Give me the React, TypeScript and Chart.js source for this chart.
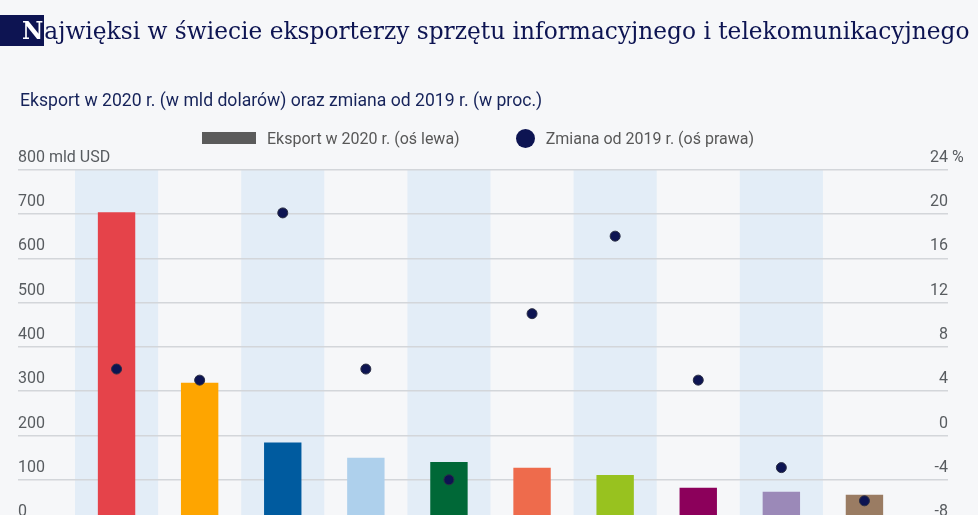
import React, { useEffect, useRef } from "react";
import { Chart, registerables } from "chart.js";

Chart.register(...registerables);

// ---- data ----
const categories = [
  "Chiny",
  "Hongkong",
  "Tajwan",
  "USA",
  "Korea Płd.",
  "Singapur",
  "Wietnam",
  "Malezja",
  "Japonia",
  "Niemcy",
];
const exports2020 = [704, 319, 184, 150, 140, 127, 111, 82, 73, 66];
const change2019 = [6.0, 5.0, 20.1, 6.0, -4.0, 11.0, 18.0, 5.0, -2.9, -5.9];
const barColors = [
  "#e5434a",
  "#fea500",
  "#005b9f",
  "#aed0ec",
  "#006837",
  "#ee6b4c",
  "#98c21f",
  "#8c005b",
  "#9b89b8",
  "#9a7c63",
];
const leftTicks = { min: 0, max: 800, step: 100, unit: "mld USD" };
const rightTicks = { min: -8, max: 24, step: 4, unit: "%" };

const TITLE_REST = "ajwięksi w świecie eksporterzy sprzętu informacyjnego i telekomunikacyjnego";
const SUBTITLE = "Eksport w 2020 r. (w mld dolarów) oraz zmiana od 2019 r. (w proc.)";
const LEGEND_BAR = "Eksport w 2020 r. (oś lewa)";
const LEGEND_DOT = "Zmiana od 2019 r. (oś prawa)";

const NAVY = "#0d1452";
const BG = "#f6f7f9";
const BAND = "#e3edf7";
const GRID = "#d3d6da";
const TICK = "#585c60";
const SANS = "Roboto, 'Noto Sans', sans-serif";
const TICK_FONT = `16px ${SANS}`;

const bandPlugin = {
  id: "bands",
  beforeDraw(chart: any) {
    const { ctx, chartArea, scales } = chart;
    const x = scales.x;
    const w = (chartArea.right - chartArea.left) / categories.length;
    ctx.save();
    ctx.fillStyle = BAND;
    categories.forEach((_, i) => {
      if (i % 2 === 0) {
        const cx = x.getPixelForValue(i);
        ctx.fillRect(cx - w / 2, chartArea.top, w, chartArea.bottom - chartArea.top);
      }
    });
    ctx.restore();
  },
};

const unitPlugin = {
  id: "units",
  afterDraw(chart: any) {
    const { ctx, scales } = chart;
    const yL = scales.yL;
    const yR = scales.yR;
    ctx.save();
    ctx.font = TICK_FONT;
    ctx.fillStyle = TICK;
    ctx.textAlign = "left";
    ctx.textBaseline = "middle";
    const w800 = ctx.measureText(String(leftTicks.max) + " ").width;
    ctx.fillText(leftTicks.unit, yL.left + w800, yL.getPixelForValue(leftTicks.max) - 12);
    ctx.fillText(rightTicks.unit, yR.right + 4, yR.getPixelForValue(rightTicks.max) - 12);
    ctx.restore();
  },
};

export default function App() {
  const ref = useRef<HTMLCanvasElement | null>(null);

  useEffect(() => {
    if (!ref.current) return;
    const chart = new Chart(ref.current, {
      type: "bar",
      data: {
        labels: categories,
        datasets: [
          {
            type: "line",
            label: LEGEND_DOT,
            data: change2019,
            yAxisID: "yR",
            showLine: false,
            pointRadius: 5,
            pointBackgroundColor: NAVY,
            pointBorderColor: "#2b2f45",
            pointBorderWidth: 1,
            order: 0,
          } as any,
          {
            type: "bar",
            label: LEGEND_BAR,
            data: exports2020,
            backgroundColor: barColors,
            yAxisID: "yL",
            barPercentage: 0.45,
            categoryPercentage: 1,
            order: 1,
          },
        ],
      },
      options: {
        responsive: false,
        animation: false,
        devicePixelRatio: 1,
        layout: { padding: { left: 18, right: 30, top: 169.7, bottom: 20.9 } },
        plugins: {
          legend: { display: false },
          tooltip: { enabled: false },
          title: { display: false },
        },
        scales: {
          x: { display: false, offset: true },
          yL: {
            position: "left",
            min: leftTicks.min,
            max: leftTicks.max,
            afterFit: (s: any) => {
              s.width = 57;
            },
            border: { display: false },
            grid: {
              color: GRID,
              lineWidth: 1.5,
              drawTicks: true,
              tickLength: 57,
              tickColor: GRID,
            },
            ticks: {
              stepSize: leftTicks.step,
              crossAlign: "far",
              labelOffset: -12,
              color: TICK,
              font: { family: SANS, size: 16 },
              callback: (v: any) => String(v),
            },
          },
          yR: {
            position: "right",
            min: rightTicks.min,
            max: rightTicks.max,
            afterFit: (s: any) => {
              s.width = 42;
            },
            border: { display: false },
            grid: {
              color: GRID,
              lineWidth: 1.5,
              drawOnChartArea: false,
              drawTicks: true,
              tickLength: 42,
              tickColor: GRID,
            },
            ticks: {
              stepSize: rightTicks.step,
              crossAlign: "far",
              labelOffset: -12,
              color: TICK,
              font: { family: SANS, size: 16 },
              callback: (v: any) => String(v),
            },
          },
        },
      } as any,
      plugins: [bandPlugin, unitPlugin],
    });
    return () => chart.destroy();
  }, []);

  return (
    <div
      style={{
        position: "fixed",
        left: 0,
        top: 0,
        width: 978,
        height: 515,
        overflow: "hidden",
        background: BG,
      }}
    >
      <canvas
        ref={ref}
        width={978}
        height={545}
        style={{ position: "absolute", left: 0, top: 0, display: "block" }}
      />
      <div
        style={{
          position: "absolute",
          left: 0,
          top: 15,
          height: 31,
          display: "flex",
          alignItems: "center",
          fontFamily: "'DejaVu Serif', serif",
          fontSize: 23.3,
          color: NAVY,
          whiteSpace: "nowrap",
        }}
      >
        <span
          style={{
            background: NAVY,
            color: "#fff",
            fontWeight: "bold",
            height: 31,
            lineHeight: "31px",
            paddingLeft: 22,
            paddingRight: 1,
            display: "inline-block",
          }}
        >
          N
        </span>
        <span>{TITLE_REST}</span>
      </div>
      <div
        style={{
          position: "absolute",
          left: 20,
          top: 89,
          fontFamily: SANS,
          fontSize: 17.6,
          lineHeight: "22px",
          color: "#16235a",
          whiteSpace: "nowrap",
        }}
      >
        {SUBTITLE}
      </div>
      <div
        style={{
          position: "absolute",
          left: 202,
          top: 127,
          height: 22,
          display: "flex",
          alignItems: "center",
          fontFamily: SANS,
          fontSize: 16,
          color: "#585858",
          whiteSpace: "nowrap",
        }}
      >
        <span style={{ display: "inline-block", width: 54, height: 12, background: "#5b5b5b", marginRight: 11 }} />
        <span>{LEGEND_BAR}</span>
        <span
          style={{
            display: "inline-block",
            width: 19,
            height: 19,
            borderRadius: "50%",
            background: NAVY,
            marginLeft: 56,
            marginRight: 11,
          }}
        />
        <span>{LEGEND_DOT}</span>
      </div>
    </div>
  );
}
